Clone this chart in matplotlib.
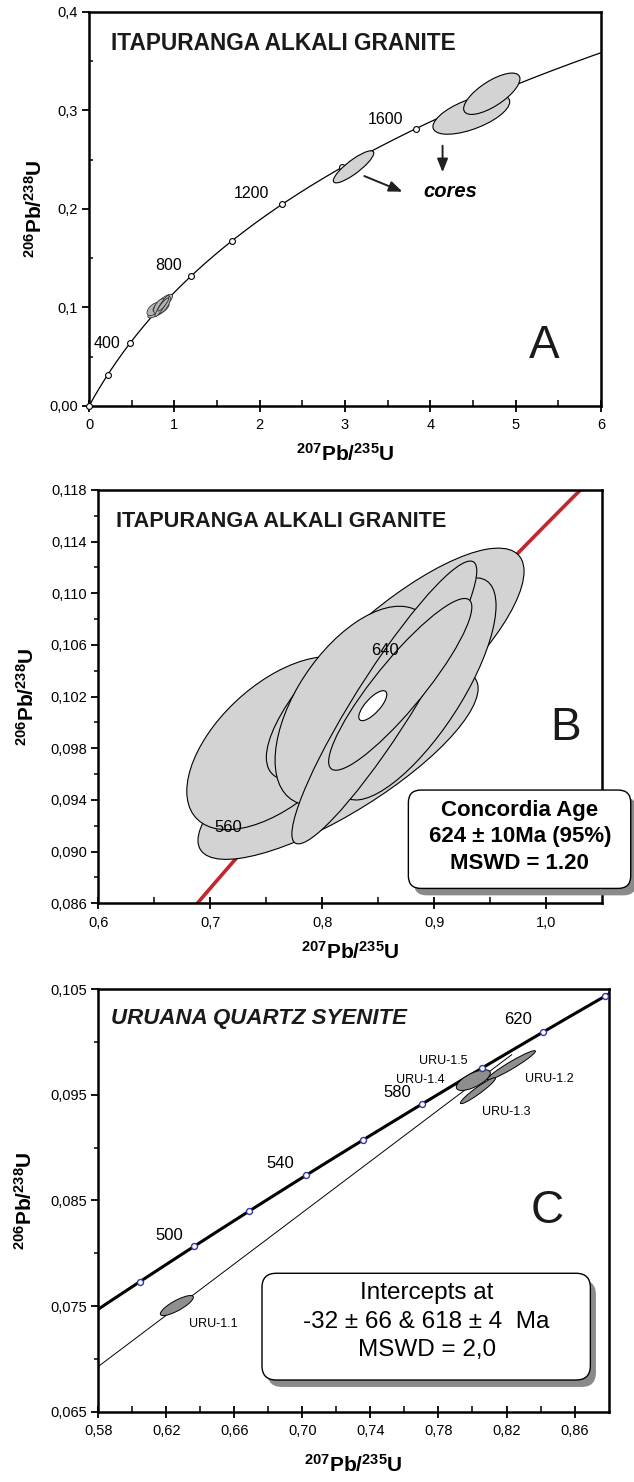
import matplotlib
matplotlib.use("Agg")
import matplotlib.pyplot as plt
import matplotlib.patheffects as pe
import numpy as np
from matplotlib.patches import Ellipse, FancyBboxPatch
from matplotlib.transforms import Affine2D

plt.rcParams["font.family"] = "Liberation Sans"
plt.rcParams["mathtext.fontset"] = "custom"
plt.rcParams["mathtext.rm"] = "Liberation Sans:bold"
plt.rcParams["mathtext.default"] = "rm"

# decay constants (1/yr) used for the concordia curves
L238 = 1.55125e-10
L235 = 9.8485e-10

# ---- panel A: whole-range concordia with zircon cores ----
a_ages = [0, 200, 400, 600, 800, 1000, 1200, 1400, 1600, 1800]
a_age_labels = ["400", "800", "1200", "1600"]
a_label_x = [0.21, 0.93, 1.90, 3.48]
a_label_y = [0.0636, 0.1424, 0.2157, 0.2911]
core_x = [3.10, 4.48, 4.72]
core_y = [0.2428, 0.2962, 0.3170]
core_sx = [0.237, 0.450, 0.330]
core_sy = [0.0163, 0.0203, 0.0210]
core_rho = [0.86, 0.62, 0.72]
a_xticks = [0, 1, 2, 3, 4, 5, 6]
a_xlabels = ["0", "1", "2", "3", "4", "5", "6"]
a_yticks = [0.0, 0.1, 0.2, 0.3, 0.4]
a_ylabels = ["0,00", "0,1", "0,2", "0,3", "0,4"]

# ---- panel B: Itapuranga analyses (also the cluster in panel A) ----
b_x = [0.814, 0.760, 0.865, 0.8294, 0.8835, 0.8553, 0.8695]
b_y = [0.09675, 0.0984, 0.1045, 0.1013, 0.1026, 0.10155, 0.10295]
b_sx = [0.125, 0.081, 0.115, 0.0716, 0.0715, 0.0825, 0.0639]
b_sy = [0.00735, 0.0067, 0.0090, 0.0077, 0.0086, 0.01095, 0.00665]
b_rho = [0.80, 0.556, 0.80, 0.55, 0.75, 0.93, 0.90]
conc_age = (0.845, 0.1013, 0.0125, 0.00116, 0.75)
b_age_labels = ["560", "640"]
b_label_x = [0.716, 0.856]
b_label_y = [0.0919, 0.1056]
b_xticks = [0.6, 0.7, 0.8, 0.9, 1.0]
b_xlabels = ["0,6", "0,7", "0,8", "0,9", "1,0"]
b_yticks = [0.086, 0.090, 0.094, 0.098, 0.102, 0.106, 0.110, 0.114, 0.118]
b_ylabels = ["0,086", "0,090", "0,094", "0,098", "0,102", "0,106", "0,110", "0,114", "0,118"]

# ---- panel C: Uruana quartz syenite ----
c_ages = [480, 500, 520, 540, 560, 580, 600, 620, 640, 660]
c_age_labels = ["500", "540", "580", "620"]
c_label_x = [0.6216, 0.687, 0.7558, 0.8268]
c_label_y = [0.0817, 0.0885, 0.0952, 0.1021]
uru_names = ["URU-1.1", "URU-1.2", "URU-1.3", "URU-1.4", "URU-1.5"]
uru_x = [0.6262, 0.8228, 0.8032, 0.8005]
uru_y = [0.07505, 0.0978, 0.0954, 0.0964]
uru_sx = [0.0097, 0.0142, 0.0103, 0.0100]
uru_sy = [0.00095, 0.00139, 0.00123, 0.00098]
uru_rho = [0.82, 0.96, 0.95, 0.68]
uru_lab_x = [0.6478, 0.8449, 0.8200, 0.7693, 0.7831]
uru_lab_y = [0.07328, 0.0965, 0.09335, 0.09641, 0.09824]
intercepts = [-32, 618]
discordia_x = [0.575, 0.823]
c_xticks = [0.58, 0.62, 0.66, 0.70, 0.74, 0.78, 0.82, 0.86]
c_xlabels = ["0,58", "0,62", "0,66", "0,70", "0,74", "0,78", "0,82", "0,86"]
c_yticks = [0.065, 0.075, 0.085, 0.095, 0.105]
c_ylabels = ["0,065", "0,075", "0,085", "0,095", "0,105"]


def concordia(t_ma):
    t = np.asarray(t_ma, dtype=float) * 1e6
    return np.exp(L235 * t) - 1, np.exp(L238 * t) - 1


def err_ellipse(ax, x, y, sx, sy, rho, **kw):
    m = np.array([[sx, 0, x], [rho * sy, sy * np.sqrt(1 - rho ** 2), y], [0, 0, 1]])
    e = Ellipse((0, 0), 2, 2, transform=Affine2D(m) + ax.transData, **kw)
    ax.add_patch(e)


def style_axes(ax, xt, xl, yt, yl, xminor, yminor, ydir_minor="out"):
    ax.set_xticks(xt, xl)
    ax.set_yticks(yt, yl)
    ax.set_xticks(xminor, minor=True)
    ax.set_yticks(yminor, minor=True)
    ax.tick_params(axis="x", which="major", direction="inout", length=8, width=1.3, labelsize=10.5, pad=5)
    ax.tick_params(axis="x", which="minor", direction="in", length=4, width=1.1)
    ax.tick_params(axis="y", which="major", direction="out", length=5, width=1.3, labelsize=10.5, pad=3)
    ax.tick_params(axis="y", which="minor", direction=ydir_minor, length=3, width=1.1)
    for s in ax.spines.values():
        s.set_linewidth(1.8)


def label_axes(ax, xlab_y, ylab_x):
    ax.set_xlabel("$^{207}$Pb/$^{235}$U", fontsize=15, fontweight="bold")
    ax.set_ylabel("$^{206}$Pb/$^{238}$U", fontsize=15, fontweight="bold")
    ax.xaxis.set_label_coords(0.5, xlab_y)
    ax.yaxis.set_label_coords(ylab_x, 0.5)


def result_box(ax, x0, y0, x1, y1, lines, ys, xc, size, weight, rs):
    bb = ax.get_position()
    asp = (bb.width * fig.get_figwidth()) / (bb.height * fig.get_figheight())
    box = FancyBboxPatch((x0, y0), x1 - x0, y1 - y0, boxstyle="round,pad=0,rounding_size=%g" % rs,
                         mutation_aspect=asp, transform=ax.transAxes, facecolor="white",
                         edgecolor="black", linewidth=1.0, clip_on=False, zorder=6,
                         path_effects=[pe.SimplePatchShadow(offset=(4, -5), shadow_rgbFace="#8a8a8a", alpha=1),
                                       pe.Normal()])
    ax.add_patch(box)
    for txt, yy in zip(lines, ys):
        ax.text(xc, yy, txt, transform=ax.transAxes, ha="center", va="center",
                fontsize=size, fontweight=weight, zorder=7, clip_on=False)


fig = plt.figure(figsize=(6.34, 14.82), dpi=100)
axA = fig.add_axes([0.1404, 0.72605, 0.8076, 0.26586])
axB = fig.add_axes([0.1550, 0.39049, 0.7953, 0.27888])
axC = fig.add_axes([0.1550, 0.04744, 0.8049, 0.28502])

# ---------------- A ----------------
t = np.linspace(0, 2000, 500)
cx, cy = concordia(t)
axA.plot(cx, cy, color="black", lw=0.9, zorder=2)
mx, my = concordia(a_ages)
axA.plot(mx, my, "o", ms=4.2, mfc="white", mec="black", mew=0.8, zorder=3, clip_on=False)
for i in range(len(b_x)):
    err_ellipse(axA, b_x[i], b_y[i], b_sx[i], b_sy[i], b_rho[i], facecolor="#b4b4b4", edgecolor="#202020", lw=0.5, zorder=4)
for i in range(len(core_x)):
    err_ellipse(axA, core_x[i], core_y[i], core_sx[i], core_sy[i], core_rho[i], facecolor="#d3d3d3", edgecolor="black", lw=0.8, zorder=4)
for lab, lx, ly in zip(a_age_labels, a_label_x, a_label_y):
    axA.text(lx, ly, lab, fontsize=11.5, ha="center", va="center", zorder=5)
axA.annotate("", xy=(4.143, 0.2345), xytext=(4.143, 0.267),
             arrowprops=dict(arrowstyle="-|>,head_length=0.8,head_width=0.32", color="#202020", lw=1.4))
axA.annotate("", xy=(3.703, 0.2165), xytext=(3.196, 0.2345),
             arrowprops=dict(arrowstyle="-|>,head_length=0.8,head_width=0.32", color="#202020", lw=1.4))
axA.text(3.915, 0.2176, "cores", fontsize=14.5, fontweight="bold", fontstyle="italic", ha="left", va="center")
axA.text(0.043, 0.921, "ITAPURANGA ALKALI GRANITE", transform=axA.transAxes, fontsize=16.3,
         fontweight="bold", ha="left", va="center", color="#1a1a1a")
axA.text(0.89, 0.151, "A", transform=axA.transAxes, fontsize=33, ha="center", va="center", color="#1a1a1a")
axA.set_xlim(0, 6)
axA.set_ylim(0, 0.4)
style_axes(axA, a_xticks, a_xlabels, a_yticks, a_ylabels,
           [0.5, 1.5, 2.5, 3.5, 4.5, 5.5], [0.05, 0.15, 0.25, 0.35], ydir_minor="in")
label_axes(axA, -0.094, -0.084)

# ---------------- B ----------------
t = np.linspace(500, 740, 300)
cx, cy = concordia(t)
axB.plot(cx, cy, color="#c1272d", lw=2.6, zorder=2)
for i in range(len(b_x)):
    err_ellipse(axB, b_x[i], b_y[i], b_sx[i], b_sy[i], b_rho[i], facecolor="#d3d3d3", edgecolor="black", lw=0.8, zorder=3)
err_ellipse(axB, *conc_age, facecolor="white", edgecolor="black", lw=0.8, zorder=4)
for lab, lx, ly in zip(b_age_labels, b_label_x, b_label_y):
    axB.text(lx, ly, lab, fontsize=12, ha="center", va="center", zorder=5)
axB.text(0.035, 0.923, "ITAPURANGA ALKALI GRANITE", transform=axB.transAxes, fontsize=15.6,
         fontweight="bold", ha="left", va="center", color="#1a1a1a")
axB.text(0.926, 0.425, "B", transform=axB.transAxes, fontsize=33, ha="center", va="center", color="#1a1a1a")
axB.set_xlim(0.6, 1.05)
axB.set_ylim(0.086, 0.118)
style_axes(axB, b_xticks, b_xlabels, b_yticks, b_ylabels,
           [0.65, 0.75, 0.85, 0.95], [0.088, 0.092, 0.096, 0.100, 0.104, 0.108, 0.112, 0.116])
label_axes(axB, -0.09, -0.12)
result_box(axB, 0.615, 0.036, 1.056, 0.274,
           ["Concordia Age", "624 \u00b1 10Ma (95%)", "MSWD = 1.20"],
           [0.2257, 0.161, 0.0951], 0.836, 16, "bold", 0.025)

# ---------------- C ----------------
t = np.linspace(455, 680, 300)
cx, cy = concordia(t)
axC.plot(cx, cy, color="black", lw=2.2, zorder=3)
ix, iy = concordia(intercepts)
slope = (iy[1] - iy[0]) / (ix[1] - ix[0])
dx = np.array(discordia_x)
axC.plot(dx, iy[0] + slope * (dx - ix[0]), color="black", lw=0.7, zorder=2)
for i in range(len(uru_x)):
    err_ellipse(axC, uru_x[i], uru_y[i], uru_sx[i], uru_sy[i], uru_rho[i], facecolor="#8e8e8e", edgecolor="black", lw=0.7, zorder=4)
mx, my = concordia(c_ages)
axC.plot(mx, my, "o", ms=4.3, mfc="white", mec="#3535a5", mew=1.0, zorder=5, clip_on=False)
for lab, lx, ly in zip(c_age_labels, c_label_x, c_label_y):
    axC.text(lx, ly, lab, fontsize=12, ha="center", va="center", zorder=6)
for lab, lx, ly in zip(uru_names, uru_lab_x, uru_lab_y):
    axC.text(lx, ly, lab, fontsize=9, ha="center", va="center", zorder=6)
axC.text(0.025, 0.931, "URUANA QUARTZ SYENITE", transform=axC.transAxes, fontsize=16,
         fontweight="bold", fontstyle="italic", ha="left", va="center", color="#1a1a1a")
axC.text(0.879, 0.476, "C", transform=axC.transAxes, fontsize=33, ha="center", va="center", color="#1a1a1a")
axC.set_xlim(0.58, 0.88)
axC.set_ylim(0.065, 0.105)
style_axes(axC, c_xticks, c_xlabels, c_yticks, c_ylabels,
           [0.60, 0.64, 0.68, 0.72, 0.76, 0.80, 0.84], [0.070, 0.080, 0.090, 0.100])
label_axes(axC, -0.10, -0.122)
result_box(axC, 0.3208, 0.075, 0.9643, 0.3277,
           ["Intercepts at", "-32 \u00b1 66 & 618 \u00b1 4  Ma", "MSWD = 2,0"],
           [0.2803, 0.2131, 0.1461], 0.6434, 17.5, "normal", 0.028)

fig.savefig("out.png", dpi=100)
